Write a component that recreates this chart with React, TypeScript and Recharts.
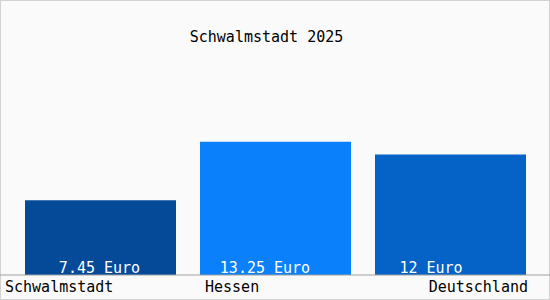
import {BarChart, Bar, XAxis, YAxis, Cell, LabelList} from 'recharts';

const regions = ['Schwalmstadt', 'Hessen', 'Deutschland'];
const values = [7.45, 13.25, 12];
const valueLabels = ['7.45 Euro', '13.25 Euro', '12 Euro'];
const title = 'Schwalmstadt 2025';

const barColors = ['#044a98', '#0a80fb', '#0562c6'];
// tick text placement relative to the band centre (styling only)
const tickAnchor = ['start', 'start', 'end'];
const tickShift = [-95.5, -70.5, 77.5];
const labelShift = [-1, -10.5, -19.5];

const mono = '"DejaVu Sans Mono", monospace';

const chartData = regions.map((name, i) => ({name, value: values[i], label: valueLabels[i]}));

function RegionTick(props: any) {
  const {x, y, payload, index} = props;
  return (
    <text
      x={x + tickShift[index]}
      y={y + 9}
      textAnchor={tickAnchor[index] as any}
      fontFamily={mono}
      fontSize={15}
      fill="#000"
    >
      {payload.value}
    </text>
  );
}

function ValueLabel(props: any) {
  const {x, y, width, height, index} = props;
  return (
    <text
      x={x + width / 2 + labelShift[index]}
      y={y + height - 2}
      textAnchor="middle"
      fontFamily={mono}
      fontSize={15}
      fill="#fff"
    >
      {valueLabels[index]}
    </text>
  );
}

export default function App() {
  return (
    <div
      style={{
        position: 'absolute',
        left: 0,
        top: 0,
        width: 550,
        height: 300,
        background: '#fafafa',
        border: '1px solid #d2d2d2',
        boxSizing: 'border-box',
      }}
    >
      <div
        style={{
          position: 'absolute',
          left: 0,
          top: 29,
          width: 531,
          textAlign: 'center',
          fontFamily: mono,
          fontSize: 15,
          lineHeight: '15px',
          color: '#000',
        }}
      >
        {title}
      </div>
      <div style={{position: 'absolute', left: -1, top: -1}}>
        <BarChart width={550} height={300} data={chartData} margin={{top: 74, right: 0, bottom: 0, left: 0}}>
          <XAxis
            dataKey="name"
            height={25}
            padding={{left: 13, right: 12}}
            axisLine={{stroke: '#a0a0a0'}}
            tickLine={false}
            interval={0}
            tick={<RegionTick />}
          />
          <YAxis hide domain={[0, 20]} />
          <Bar dataKey="value" barSize={151} isAnimationActive={false}>
            {chartData.map((d, i) => (
              <Cell key={d.name} fill={barColors[i]} />
            ))}
            <LabelList dataKey="label" content={<ValueLabel />} />
          </Bar>
        </BarChart>
      </div>
    </div>
  );
}
